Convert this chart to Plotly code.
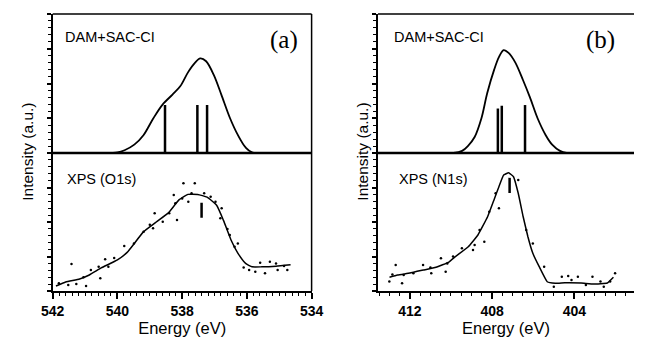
import plotly.graph_objects as go

# page body has an 8px margin; figure is sized to fill the rest of the window
OFF = 8
WIN_W, WIN_H = 646, 343
W, H = WIN_W - OFF, WIN_H - OFF

# ---------------- data (a) O1s ----------------
sim_a_E = [542.0, 540.0, 539.78, 539.48, 539.19, 538.89, 538.6, 538.3, 538.06, 537.82, 537.6,
           537.44, 537.26, 537.02, 536.79, 536.52, 536.28, 536.04, 535.84, 534.0]
sim_a_I = [0.0, 0.005, 0.02, 0.06, 0.13, 0.25, 0.35, 0.42, 0.48, 0.58, 0.65,
           0.68, 0.66, 0.56, 0.42, 0.25, 0.13, 0.04, 0.005, 0.0]
stick_a_E = [538.53, 537.53, 537.23]
stick_a_I = [0.345, 0.345, 0.345]

xps_a_E = [541.9, 541.6, 541.17, 540.87, 540.5, 540.0, 539.7, 539.19, 538.8, 538.41, 538.1,
           537.82, 537.52, 537.23, 536.93, 536.72, 536.49, 536.28, 536.04, 535.84, 535.54,
           535.1, 534.65]
xps_a_I = [0.036, 0.065, 0.087, 0.116, 0.167, 0.225, 0.28, 0.43, 0.5, 0.57, 0.66,
           0.70, 0.70, 0.68, 0.62, 0.51, 0.37, 0.275, 0.2, 0.175, 0.175, 0.18, 0.19]
dots_a_E = [541.81, 541.52, 541.27, 540.97, 541.42, 540.82, 540.58, 540.38, 540.53, 540.28,
            539.79, 539.49, 539.19, 538.9, 538.85, 538.6, 538.4, 538.21, 538.16, 538.26,
            537.96, 537.61, 537.81, 537.71, 537.32, 537.12, 536.97, 536.78, 536.82, 536.53,
            536.38, 536.28, 535.93, 535.74, 535.59, 535.44, 535.29, 535.1, 535.05, 534.85,
            534.75, 541.05, 540.1, 539.0, 538.0, 536.6, 536.1]
dots_a_I = [0.056, 0.043, 0.05, 0.036, 0.196, 0.152, 0.176, 0.23, 0.092, 0.176,
            0.326, 0.345, 0.43, 0.454, 0.563, 0.502, 0.563, 0.636, 0.514, 0.696,
            0.78, 0.78, 0.647, 0.708, 0.708, 0.683, 0.647, 0.6, 0.527, 0.406,
            0.321, 0.345, 0.152, 0.14, 0.205, 0.128, 0.212, 0.2, 0.152, 0.181,
            0.152, 0.10, 0.24, 0.48, 0.67, 0.45, 0.17]
mark_a_E = 537.4
mark_a_I = [0.53, 0.64]

# ---------------- data (b) N1s ----------------
sim_b_E = [413.55, 409.88, 409.46, 409.18, 408.85, 408.52, 408.24, 407.9, 407.67, 407.44, 407.2,
           406.87, 406.5, 406.16, 405.79, 405.4, 405.08, 404.7, 404.38, 401.1]
sim_b_I = [0.0, 0.0, 0.015, 0.05, 0.115, 0.25, 0.43, 0.6, 0.69, 0.74, 0.72,
           0.65, 0.525, 0.40, 0.25, 0.13, 0.06, 0.015, 0.0, 0.0]
stick_b_E = [407.72, 407.53, 406.4]
stick_b_I = [0.32, 0.34, 0.345]

xps_b_E = [412.99, 412.6, 412.0, 411.34, 410.73, 410.1, 409.79, 409.16, 408.69, 408.22, 407.91,
           407.67, 407.44, 407.2, 406.96, 406.73, 406.49, 406.26, 406.02, 405.71, 405.32,
           404.93, 404.46, 403.67, 403.06, 402.4, 402.1]
xps_b_I = [0.10, 0.116, 0.13, 0.152, 0.172, 0.21, 0.249, 0.321, 0.406, 0.538, 0.66,
           0.756, 0.84, 0.857, 0.828, 0.708, 0.538, 0.393, 0.273, 0.176, 0.067,
           0.056, 0.06, 0.058, 0.05, 0.058, 0.10]
dots_b_E = [413.0, 412.69, 412.38, 412.3, 411.83, 411.36, 410.96, 410.49, 410.18, 410.26,
            409.47, 408.93, 408.85, 408.61, 408.38, 408.14, 407.83, 407.67, 406.73, 406.34,
            406.02, 405.47, 404.61, 404.3, 405.0, 404.14, 403.83, 403.44, 403.12, 402.73,
            402.57, 402.02, 402.26, 412.85, 411.0, 409.9]
dots_b_I = [0.068, 0.188, 0.056, 0.116, 0.128, 0.188, 0.128, 0.237, 0.2, 0.14,
            0.31, 0.297, 0.333, 0.442, 0.357, 0.575, 0.708, 0.6, 0.804, 0.442,
            0.345, 0.176, 0.104, 0.108, 0.031, 0.08, 0.104, 0.043, 0.104, 0.068,
            0.031, 0.128, 0.068, 0.12, 0.17, 0.25]
mark_b_E = 407.15
mark_b_I = [0.71, 0.82]

x_a_ticks = [542, 540, 538, 536, 534]
x_b_ticks = [412, 408, 404]


def sticks(E, I):
    xs, ys = [], []
    for e, i in zip(E, I):
        xs += [e, e, None]
        ys += [0, i, None]
    return xs, ys


fig = go.Figure()
blk = "black"

# (a) top
sx, sy = sticks(stick_a_E, stick_a_I)
fig.add_trace(go.Scatter(x=sim_a_E, y=sim_a_I, mode="lines", line=dict(color=blk, width=1.8, shape="spline", smoothing=0.9),
                         xaxis="x", yaxis="y2", showlegend=False))
fig.add_trace(go.Scatter(x=sx, y=sy, mode="lines", line=dict(color=blk, width=2.5), xaxis="x", yaxis="y2", showlegend=False))
# (a) bottom
fig.add_trace(go.Scatter(x=dots_a_E, y=dots_a_I, mode="markers", marker=dict(color=blk, size=2.5),
                         xaxis="x", yaxis="y", showlegend=False))
fig.add_trace(go.Scatter(x=xps_a_E, y=xps_a_I, mode="lines", line=dict(color=blk, width=1.5, shape="spline", smoothing=0.4),
                         xaxis="x", yaxis="y", showlegend=False))
fig.add_trace(go.Scatter(x=[mark_a_E, mark_a_E], y=mark_a_I, mode="lines", line=dict(color=blk, width=2.5),
                         xaxis="x", yaxis="y", showlegend=False))

# (b) top
sx, sy = sticks(stick_b_E, stick_b_I)
fig.add_trace(go.Scatter(x=sim_b_E, y=sim_b_I, mode="lines", line=dict(color=blk, width=1.8, shape="spline", smoothing=0.9),
                         xaxis="x2", yaxis="y4", showlegend=False))
fig.add_trace(go.Scatter(x=sx, y=sy, mode="lines", line=dict(color=blk, width=2.5), xaxis="x2", yaxis="y4", showlegend=False))
# (b) bottom
fig.add_trace(go.Scatter(x=dots_b_E, y=dots_b_I, mode="markers", marker=dict(color=blk, size=2.5),
                         xaxis="x2", yaxis="y3", showlegend=False))
fig.add_trace(go.Scatter(x=xps_b_E, y=xps_b_I, mode="lines", line=dict(color=blk, width=1.5, shape="spline", smoothing=0.3),
                         xaxis="x2", yaxis="y3", showlegend=False))
fig.add_trace(go.Scatter(x=[mark_b_E, mark_b_E], y=mark_b_I, mode="lines", line=dict(color=blk, width=2.5),
                         xaxis="x2", yaxis="y3", showlegend=False))


def px(x):
    return (x - OFF) / W


def py(y):
    return 1 - (y - OFF) / H


xa_dom = [px(42), px(311)]
xb_dom = [px(380), 1.0]
yb_dom = [py(291), py(153)]
yt_dom = [py(153), py(14)]

tickfont = dict(family="Liberation Sans", size=14, color=blk, weight="bold")
titlefont = dict(family="Liberation Sans", size=16.5, color=blk)


def xax(dom, rng, ticks, minor, anchor):
    return dict(domain=dom, range=rng, anchor=anchor, tickvals=ticks, ticks="outside", ticklen=6, tickwidth=1.5,
                tickcolor=blk, minor=dict(dtick=minor, ticks="outside", ticklen=3, tickcolor=blk, tickwidth=1.2),
                showline=True, linecolor=blk, linewidth=2, showgrid=False, zeroline=False, tickfont=tickfont,
                title=dict(text="Energy (eV)", font=titlefont, standoff=5))


def yax(dom, anchor):
    return dict(domain=dom, range=[0, 1], anchor=anchor, showticklabels=False, ticks="outside", ticklen=4,
                tickwidth=1.5, tickcolor=blk, dtick=0.25,
                minor=dict(dtick=0.05, ticks="outside", ticklen=3, tickcolor=blk, tickwidth=1.2),
                showline=True, linecolor=blk, linewidth=2, showgrid=False, zeroline=False)


fig.update_layout(
    width=W, height=H, margin=dict(l=0, r=0, t=0, b=0),
    paper_bgcolor="white", plot_bgcolor="white",
    xaxis=xax(xa_dom, [542, 534], x_a_ticks, 0.2, "y"),
    xaxis2=xax(xb_dom, [413.55, 401.1], x_b_ticks, 0.5, "y3"),
    yaxis=yax(yb_dom, "x"),
    yaxis2=yax(yt_dom, "x"),
    yaxis3=yax(yb_dom, "x2"),
    yaxis4=yax(yt_dom, "x2"),
)

shapes = [
    dict(type="line", xref="paper", yref="paper", x0=xa_dom[0], x1=xa_dom[1], y0=yt_dom[1], y1=yt_dom[1], line=dict(color=blk, width=1.5)),
    dict(type="line", xref="paper", yref="paper", x0=xa_dom[1], x1=xa_dom[1], y0=yb_dom[0], y1=yt_dom[1], line=dict(color=blk, width=1.5)),
    dict(type="line", xref="paper", yref="paper", x0=xa_dom[0], x1=xa_dom[1], y0=yt_dom[0], y1=yt_dom[0], line=dict(color=blk, width=2.5)),
    dict(type="line", xref="paper", yref="paper", x0=xb_dom[0], x1=xb_dom[1], y0=yt_dom[1], y1=yt_dom[1], line=dict(color=blk, width=1.5)),
    dict(type="line", xref="paper", yref="paper", x0=xb_dom[0], x1=xb_dom[1], y0=yt_dom[0], y1=yt_dom[0], line=dict(color=blk, width=2.5)),
]
fig.update_layout(shapes=shapes)


def ann(text, x, y, size, family="Liberation Sans", angle=0, xanchor="left"):
    fig.add_annotation(text=text, x=px(x), y=py(y), xref="paper", yref="paper", showarrow=False,
                       xanchor=xanchor, yanchor="middle", textangle=angle,
                       font=dict(family=family, size=size, color=blk))


ann("DAM+SAC-CI", 53, 37, 14.5)
ann("DAM+SAC-CI", 395, 37, 14.5)
ann("XPS (O1s)", 55, 179, 14.5)
ann("XPS (N1s)", 400, 179, 14.5)
ann("(a)", 266, 40, 25, family="Liberation Serif")
ann("(b)", 594, 40, 25, family="Liberation Serif")
ann("Intensity (a.u.)", 15, 152, 15.5, angle=-90, xanchor="center")
ann("Intensity (a.u.)", 363, 152, 15.5, angle=-90, xanchor="center")

fig.write_html("out.html")
